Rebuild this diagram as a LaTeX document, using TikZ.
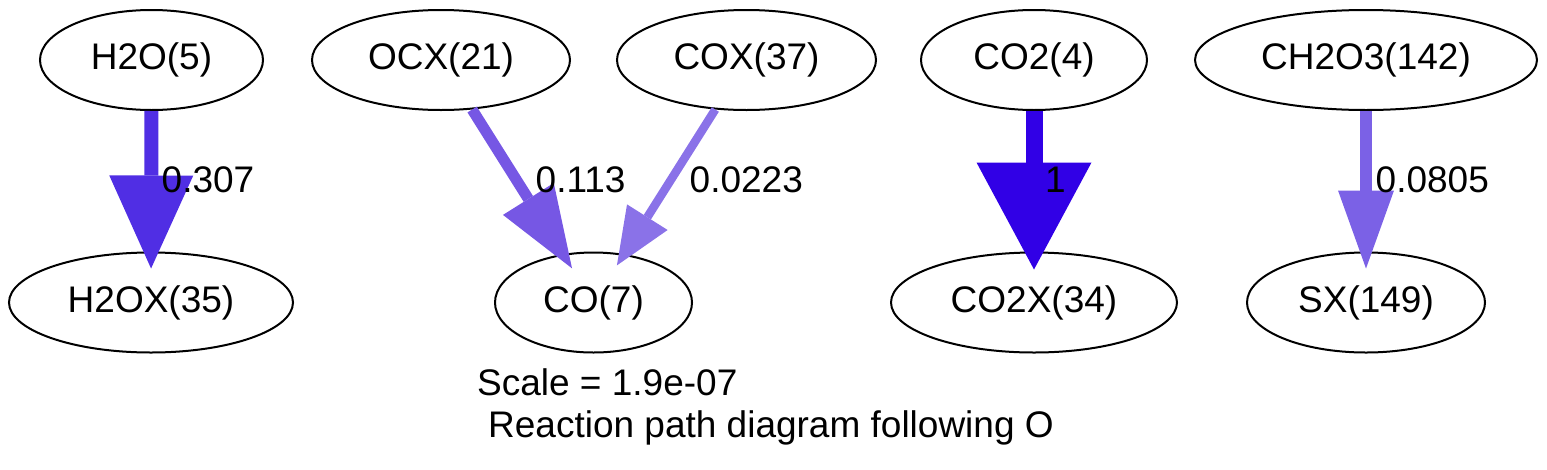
\documentclass[tikz,border=0pt]{standalone}
\usepackage{fontspec}
\setmainfont{Liberation Sans}
\usetikzlibrary{shapes.geometric,arrows.meta}
\definecolor{cA}{HTML}{502EE4}
\definecolor{cB}{HTML}{7657E4}
\definecolor{cC}{HTML}{8A72E8}
\definecolor{cD}{HTML}{3100E6}
\definecolor{cE}{HTML}{7B61E6}
\begin{document}
\begin{tikzpicture}[x=1pt,y=-1pt,
  species/.style={draw,ellipse,line width=2pt,inner sep=0pt,minimum height=100pt,font=\fontsize{37}{44}\selectfont},
  txt/.style={anchor=base west,inner sep=0pt,font=\fontsize{37}{44}\selectfont}]
\useasboundingbox (0,0) rectangle (1547,469);
% top row
\node[species,minimum width=223pt] (H2O)   at (151.5,60) {H2O(5)};
\node[species,minimum width=258pt] (OCX)   at (441,60)   {OCX(21)};
\node[species,minimum width=259pt] (COX)   at (746.5,60) {COX(37)};
\node[species,minimum width=226pt] (CO2)   at (1034,60)  {CO2(4)};
\node[species,minimum width=342pt] (CH2O3) at (1366,60)  {CH2O3(142)};
% bottom row
\node[species,minimum width=284pt] (H2OX) at (151,302.5)  {H2OX(35)};
\node[species,minimum width=197pt] (CO)   at (593.5,302.5) {CO(7)};
\node[species,minimum width=286pt] (CO2X) at (1034,302.5) {CO2X(34)};
\node[species,minimum width=238pt] (SX)   at (1366,302.5) {SX(149)};
% edges
\draw[cA,line width=14pt,-{Triangle[length=93pt,width=84pt,line width=0pt]},shorten >=-17pt] (H2O) -- (H2OX);
\draw[cB,line width=11pt,-{Triangle[length=82pt,width=60pt,line width=0pt]},shorten >=-17pt] (OCX) -- (CO);
\draw[cC,line width=8.5pt,-{Triangle[length=57pt,width=48pt,line width=0pt]},shorten >=-13.5pt] (COX) -- (CO);
\draw[cD,line width=17pt,-{Triangle[length=107pt,width=115pt,line width=0pt]},shorten >=-18pt] (CO2) -- (CO2X);
\draw[cE,line width=11.5pt,-{Triangle[length=78pt,width=56pt,line width=0pt]},shorten >=-17pt] (CH2O3) -- (SX);
% edge labels
\node[txt] (l1) at (161.5,192) {0.307};
\node[txt] (l2) at (535.5,192) {0.113};
\node[txt] (l3) at (689.5,192) {0.0223};
\node[txt] (l4) at (1045,192) {1};
\node[txt] (l5) at (1375.5,192) {0.0805};
% caption
\node[txt] (scale) at (477,395) {Scale = 1.9e-07};
\node[txt] (title) at (488,437) {Reaction path diagram following O};
\end{tikzpicture}
\end{document}
